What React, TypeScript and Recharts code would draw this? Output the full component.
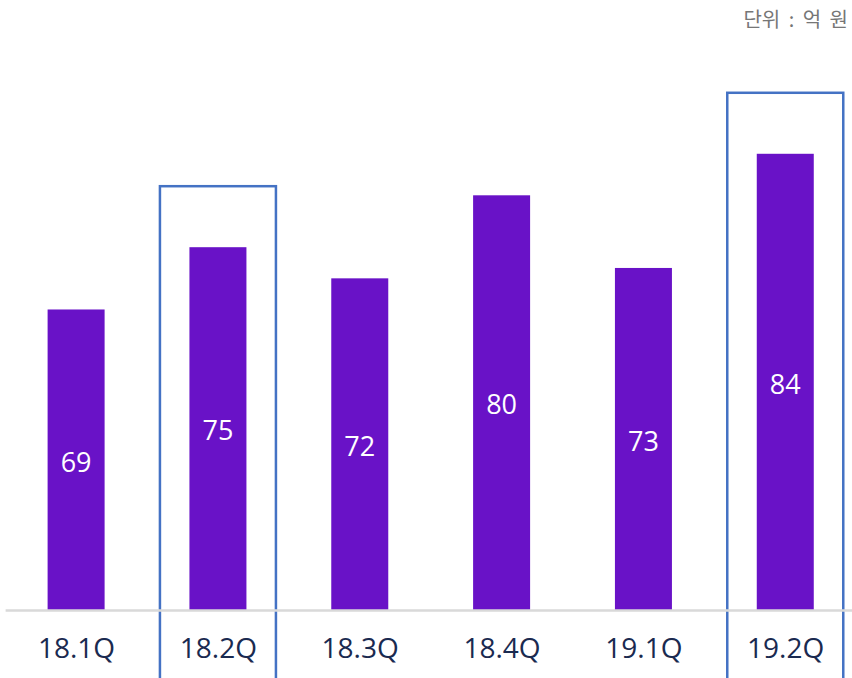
import React from "react";
import { BarChart, Bar, XAxis, YAxis, LabelList } from "recharts";

const categories = ["18.1Q", "18.2Q", "18.3Q", "18.4Q", "19.1Q", "19.2Q"];
const values = [69, 75, 72, 80, 73, 84];
const highlighted = [false, true, false, false, false, true];
const unitLabel = "단위 : 억 원";

const data = categories.map((q, i) => ({ q, v: values[i], hl: highlighted[i] }));

const BAR_COLOR = "#6912C7";
const BOX_COLOR = "#4472C4";

if (typeof document !== "undefined") {
  document.documentElement.style.overflow = "hidden";
  document.body.style.margin = "0";
  document.body.style.overflow = "hidden";
}

const BarShape = (props: any) => {
  const { x, y, width, height, payload } = props;
  const boxW = 116;
  const boxTop = y - 61;
  return (
    <g>
      <rect x={x} y={y} width={width} height={height} fill={BAR_COLOR} />
      {payload && payload.hl ? (
        <rect
          x={x + width / 2 - boxW / 2}
          y={boxTop}
          width={boxW}
          height={800}
          fill="none"
          stroke={BOX_COLOR}
          strokeWidth={2.5}
        />
      ) : null}
    </g>
  );
};

export default function App() {
  return (
    <div style={{ width: 852, height: 678, overflow: "hidden", position: "relative", background: "#fff" }}>
      <div
        style={{
          position: "absolute",
          left: 0,
          right: 4,
          top: 4,
          textAlign: "right",
          whiteSpace: "nowrap",
          fontFamily: "'Noto Sans CJK KR', 'Open Sans', sans-serif",
          fontSize: 20,
          wordSpacing: 4,
          color: "#767676",
          lineHeight: "30px",
          zIndex: 2,
        }}
      >
        {unitLabel}
      </div>
      <BarChart
        width={860}
        height={678}
        data={data}
        margin={{ top: 91.5, right: 3.4, bottom: 37.5, left: 5.6 }}
        style={{ fontFamily: "'Open Sans', sans-serif" }}
      >
        <XAxis
          dataKey="q"
          height={30}
          tickLine={false}
          axisLine={{ stroke: "#d9d9d9", strokeWidth: 2.5 }}
          tick={{ fill: "#1a2a50", fontSize: 28 }}
          tickMargin={22}
          interval={0}
        />
        <YAxis hide domain={[40, 90]} />
        <Bar dataKey="v" barSize={57} shape={<BarShape />} isAnimationActive={false}>
          <LabelList dataKey="v" position="center" fill="#ffffff" fontSize={27} dy={2} />
        </Bar>
      </BarChart>
    </div>
  );
}
